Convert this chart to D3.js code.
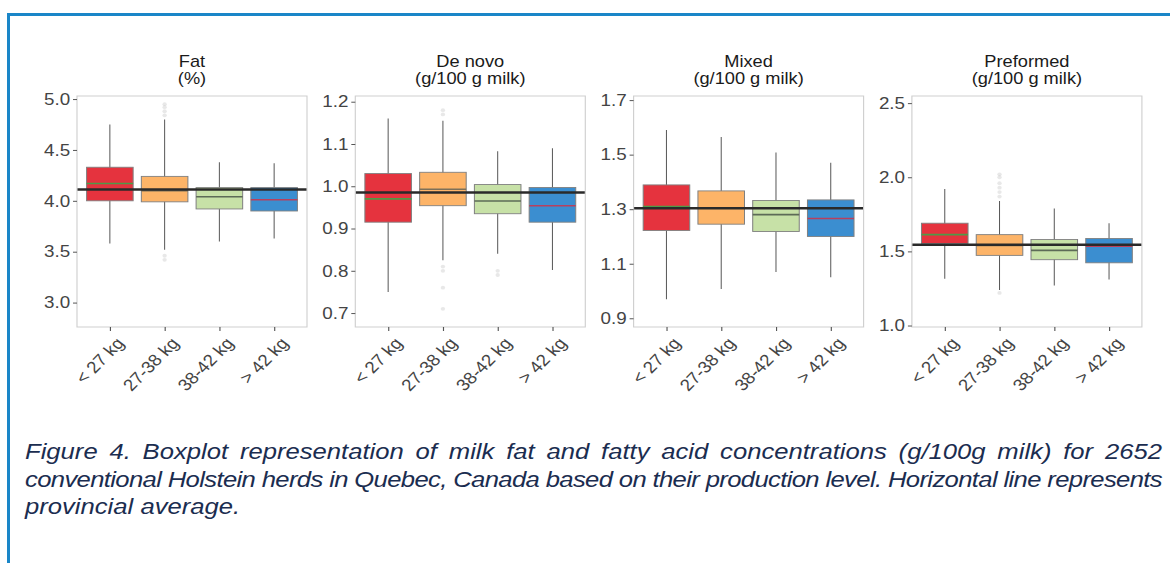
<!DOCTYPE html>
<html>
<head>
<meta charset="utf-8">
<script src="https://cdn.jsdelivr.net/npm/d3@7"></script>
<style>
  body { margin: 0; background: #fff; }
  svg { display: block; }
</style>
</head>
<body>
<svg id="chart" width="1170" height="563"></svg>
<script>
// Categories (production level) and panel labels
const categories = ["< 27 kg", "27-38 kg", "38-42 kg", "> 42 kg"];
const panelTitles = ["Fat", "De novo", "Mixed", "Preformed"];
const panelUnits = ["(%)", "(g/100 g milk)", "(g/100 g milk)", "(g/100 g milk)"];

// Box stats per category: [lower whisker, q1, median, q3, upper whisker]
const fatStats = [
    [3.58, 4.00, 4.17, 4.33, 4.75],
    [3.52, 3.99, 4.10, 4.24, 4.80],
    [3.60, 3.92, 4.04, 4.13, 4.38],
    [3.63, 3.90, 4.01, 4.13, 4.37]
];
const deNovoStats = [
    [0.750, 0.915, 0.970, 1.030, 1.160],
    [0.825, 0.954, 0.993, 1.033, 1.155],
    [0.840, 0.935, 0.965, 1.004, 1.083],
    [0.802, 0.915, 0.954, 0.997, 1.090]
];
const mixedStats = [
    [0.970, 1.222, 1.310, 1.389, 1.590],
    [1.007, 1.245, 1.305, 1.367, 1.565],
    [1.070, 1.218, 1.280, 1.332, 1.508],
    [1.050, 1.200, 1.266, 1.334, 1.470]
];
const preformedStats = [
    [1.316, 1.553, 1.613, 1.690, 1.920],
    [1.240, 1.473, 1.540, 1.613, 1.840],
    [1.270, 1.444, 1.507, 1.580, 1.790],
    [1.310, 1.423, 1.535, 1.587, 1.690]
];

// Faint outliers per category
const fatOutliers = [[], [4.84, 4.88, 4.92, 4.95, 3.42, 3.46], [], []];
const deNovoOutliers = [[], [1.17, 1.18, 0.81, 0.80, 0.76, 0.71], [0.80, 0.79], []];
const mixedOutliers = [[], [], [], []];
const preformedOutliers = [[], [1.87, 1.90, 1.93, 1.96, 2.00, 2.02, 1.22], [], []];

// Provincial averages
const panelMeans = [4.11, 0.985, 1.303, 1.545];

// Axis domains and ticks
const panelDomains = [[2.76, 5.03], [0.667, 1.2135], [0.868, 1.715], [0.99, 2.548]];
const panelTicks = [
    [3.0, 3.5, 4.0, 4.5, 5.0],
    [0.7, 0.8, 0.9, 1.0, 1.1, 1.2],
    [0.9, 1.1, 1.3, 1.5, 1.7],
    [1.0, 1.5, 2.0, 2.5]
];

const panelStats = [fatStats, deNovoStats, mixedStats, preformedStats];
const panelOutliers = [fatOutliers, deNovoOutliers, mixedOutliers, preformedOutliers];

const boxColors = ["#e5333e", "#fdb468", "#c7e1a7", "#3b8ed0"];
const medianColors = ["#4e9a47", "#7d7058", "#5d6b57", "#b8405e"];

const captionLines = [
    "Figure 4. Boxplot representation of milk fat and fatty acid concentrations (g/100g milk) for 2652",
    "conventional Holstein herds in Quebec, Canada based on their production level. Horizontal line represents",
    "provincial average."
];

// The source picture is stretched horizontally; draw in inner units then scale
const SX = 1.14;
const panelLeft = 77, panelStep = 278.3, panelWidth = 230;
const panelTop = 96, panelBottom = 327;
const labelAngle = Math.atan(SX) * 180 / Math.PI;

const svg = d3.select("#chart");

// Blue frame
svg.append("rect").attr("x", 7).attr("y", 13).attr("width", 1170).attr("height", 3).attr("fill", "#1a86c8");
svg.append("rect").attr("x", 7).attr("y", 13).attr("width", 3).attr("height", 560).attr("fill", "#1a86c8");

const root = svg.append("g").attr("transform", `scale(${SX},1)`);

panelTitles.forEach((title, p) => {
    const x0 = (panelLeft + p * panelStep) / SX;
    const w = panelWidth / SX;
    const g = root.append("g").attr("transform", `translate(${x0},0)`);

    const x = d3.scalePoint().domain(categories).range([0, w]).padding(0.6);
    const y = d3.scaleLinear().domain(panelDomains[p]).range([panelBottom, panelTop]);
    const boxW = x.step() * 0.85;

    // Titles
    g.append("text")
        .attr("x", w / 2).attr("y", 67)
        .attr("text-anchor", "middle")
        .attr("font-family", "Liberation Sans, Arial, sans-serif")
        .attr("font-size", 16).attr("fill", "#1a1a1a")
        .text(title);
    g.append("text")
        .attr("x", w / 2).attr("y", 84)
        .attr("text-anchor", "middle")
        .attr("font-family", "Liberation Sans, Arial, sans-serif")
        .attr("font-size", 16).attr("fill", "#1a1a1a")
        .text(panelUnits[p]);

    const stats = panelStats[p];

    // Whiskers
    g.selectAll(".whisker")
        .data(stats)
        .enter()
        .append("line")
        .attr("x1", (d, i) => x(categories[i]))
        .attr("x2", (d, i) => x(categories[i]))
        .attr("y1", (d) => y(d[0]))
        .attr("y2", (d) => y(d[4]))
        .attr("stroke", "#5a5a5a")
        .attr("stroke-width", 0.9);

    // Outliers
    panelOutliers[p].forEach((vals, i) => {
        g.selectAll(null)
            .data(vals)
            .enter()
            .append("circle")
            .attr("cx", x(categories[i]))
            .attr("cy", (d) => y(d))
            .attr("r", 1.9)
            .attr("fill", "#b4b4b4")
            .attr("opacity", 0.3);
    });

    // Boxes
    g.selectAll(".box")
        .data(stats)
        .enter()
        .append("rect")
        .attr("x", (d, i) => x(categories[i]) - boxW / 2)
        .attr("y", (d) => y(d[3]))
        .attr("width", boxW)
        .attr("height", (d) => y(d[1]) - y(d[3]))
        .attr("fill", (d, i) => boxColors[i])
        .attr("stroke", "#808080")
        .attr("stroke-width", 0.9);

    // Medians
    g.selectAll(".median")
        .data(stats)
        .enter()
        .append("line")
        .attr("x1", (d, i) => x(categories[i]) - boxW / 2)
        .attr("x2", (d, i) => x(categories[i]) + boxW / 2)
        .attr("y1", (d) => y(d[2]))
        .attr("y2", (d) => y(d[2]))
        .attr("stroke", (d, i) => medianColors[i])
        .attr("stroke-width", 1.6);

    // Provincial average
    g.append("line")
        .attr("x1", 0).attr("x2", w)
        .attr("y1", y(panelMeans[p])).attr("y2", y(panelMeans[p]))
        .attr("stroke", "#2a2a2a")
        .attr("stroke-width", 2.5);

    // Panel border
    g.append("rect")
        .attr("x", 0).attr("y", panelTop)
        .attr("width", w).attr("height", panelBottom - panelTop)
        .attr("fill", "none")
        .attr("stroke", "#cfcfcf")
        .attr("stroke-width", 1);

    // Y axis
    const yAxis = g.append("g")
        .call(d3.axisLeft(y).tickValues(panelTicks[p]).tickFormat(d3.format(".1f"))
            .tickSize(4 / SX).tickSizeOuter(0).tickPadding(2.5));
    yAxis.select(".domain").remove();
    yAxis.selectAll(".tick line").attr("stroke", "#555");
    yAxis.selectAll(".tick text")
        .attr("font-family", "Liberation Sans, Arial, sans-serif")
        .attr("font-size", 16.5)
        .attr("fill", "#444");

    // X axis ticks
    const xAxis = g.append("g")
        .attr("transform", `translate(0,${panelBottom})`)
        .call(d3.axisBottom(x).tickSize(4).tickSizeOuter(0).tickFormat(""));
    xAxis.select(".domain").remove();
    xAxis.selectAll(".tick line").attr("stroke", "#555");

    // Rotated category labels
    g.selectAll(".xlab")
        .data(categories)
        .enter()
        .append("text")
        .attr("transform", (d) => `translate(${x(d) + 5 / SX},${panelBottom + 9}) rotate(${-labelAngle})`)
        .attr("text-anchor", "end")
        .attr("dy", "0.72em")
        .attr("font-family", "Liberation Sans, Arial, sans-serif")
        .attr("font-size", 16.5)
        .attr("fill", "#444")
        .text((d) => d);
});

// Caption
const capLeft = 25 / SX, capRight = 1162 / SX;
const capBase = [459, 487, 514];
captionLines.forEach((line, i) => {
    const t = root.append("text")
        .attr("x", capLeft).attr("y", capBase[i])
        .attr("font-family", "Liberation Sans, Arial, sans-serif")
        .attr("font-style", "italic")
        .attr("font-size", 22.5)
        .attr("fill", "#1b2d50")
        .text(line);
    const natural = t.node().getComputedTextLength();
    const target = capRight - capLeft;
    if (i === 0) {
        const spaces = line.split(" ").length - 1;
        t.attr("word-spacing", (target - natural) / spaces);
    } else if (i === 1) {
        // tighten letters so the line fits the column
        t.attr("letter-spacing", (target - natural) / line.length);
    }
});
</script>
</body>
</html>
